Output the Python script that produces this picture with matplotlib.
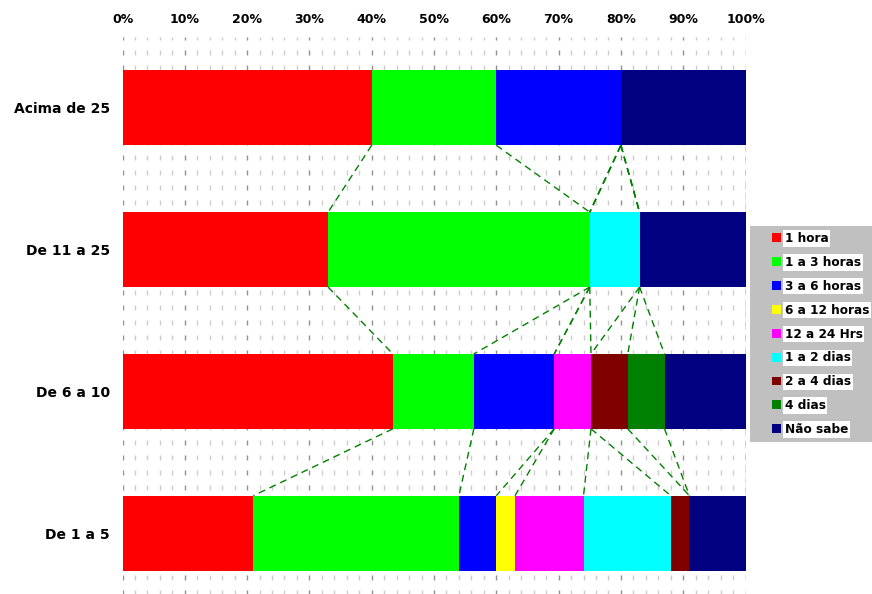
import matplotlib
matplotlib.use("Agg")
import matplotlib.pyplot as plt
import numpy as np
from matplotlib.patches import Patch, Rectangle

plt.rcParams['font.family'] = ['DejaVu Sans']

categories = ["Acima de 25", "De 11 a 25", "De 6 a 10", "De 1 a 5"]
series_names = ["1 hora", "1 a 3 horas", "3 a 6 horas", "6 a 12 horas", "12 a 24 Hrs",
                "1 a 2 dias", "2 a 4 dias", "4 dias", "Não sabe"]
colors = ["#FF0000", "#00FF00", "#0000FF", "#FFFF00", "#FF00FF",
          "#00FFFF", "#800000", "#008000", "#000080"]

# percentages per category (rows follow categories, columns follow series)
acima_25 = [40, 20, 20, 0, 0, 0, 0, 0, 20]
de_11_25 = [33, 42, 0, 0, 0, 8, 0, 0, 17]
de_6_10 = [43.4, 13.0, 12.9, 0, 5.9, 0, 5.9, 5.9, 13.0]
de_1_5 = [21, 33, 6, 3, 11, 14, 3, 0, 9]

xticks = [0, 10, 20, 30, 40, 50, 60, 70, 80, 90, 100]
xtick_labels = ["0%", "10%", "20%", "30%", "40%", "50%", "60%", "70%", "80%", "90%", "100%"]

data = np.array([acima_25, de_11_25, de_6_10, de_1_5], dtype=float)
data = data / data.sum(axis=1, keepdims=True) * 100
cum = np.cumsum(data, axis=1)
left = cum - data

W, H = 872, 594
fig = plt.figure(figsize=(W / 100, H / 100), dpi=100)
ax = fig.add_axes([122.5 / W, -10 / H, 623 / W, 567 / H])

ypos = np.arange(len(categories))
bar_h = 75 / 142

for k in range(len(series_names)):
    ax.barh(ypos, data[:, k], left=left[:, k], height=bar_h, color=colors[k],
            edgecolor='none', zorder=3)

# series lines
for k in range(len(series_names)):
    for i in range(len(categories) - 1):
        ax.plot([cum[i, k], cum[i + 1, k]], [i + bar_h / 2, i + 1 - bar_h / 2],
                color="#008000", lw=1.0, linestyle=(0, (5, 3.5)), zorder=4)

ax.set_xlim(0, 100)
ax.set_ylim(len(categories) - 0.5, -0.5)

ax.set_xticks(xticks)
ax.set_xticklabels(xtick_labels, fontsize=9, fontweight='bold')
ax.set_xticks(np.arange(0, 101, 2), minor=True)
ax.xaxis.tick_top()
ax.tick_params(axis='x', which='both', length=0, pad=8)
ax.set_yticks(ypos)
ax.set_yticklabels(categories, fontsize=10, fontweight='bold')
ax.tick_params(axis='y', length=0, pad=9)

ax.grid(axis='x', which='major', color='#909090', lw=1.0, linestyle=(0, (3.6, 7.2)), zorder=0)
ax.grid(axis='x', which='minor', color='#cccccc', lw=1.0, linestyle=(0, (3.6, 7.2)), zorder=0)
ax.set_axisbelow(True)
for s in ax.spines.values():
    s.set_visible(False)

# legend background
fig.patches.append(Rectangle((750 / W, 1 - 442 / H), 122 / W, 216 / H,
                             transform=fig.transFigure, facecolor='#c0c0c0',
                             edgecolor='none', zorder=0))

handles = [Patch(facecolor=c, edgecolor='none') for c in colors]
leg = fig.legend(handles, series_names, loc='upper left',
                 bbox_to_anchor=(772 / W, 1 - 232 / H), bbox_transform=fig.transFigure,
                 borderaxespad=0, borderpad=0, frameon=False,
                 prop={'size': 8.7, 'weight': 'bold'},
                 handlelength=0.75, handleheight=0.75, handletextpad=0.3,
                 labelspacing=0.9)
for t in leg.get_texts():
    t.set_bbox(dict(facecolor='white', edgecolor='none', pad=1.2))

fig.savefig("out.png", dpi=100)
